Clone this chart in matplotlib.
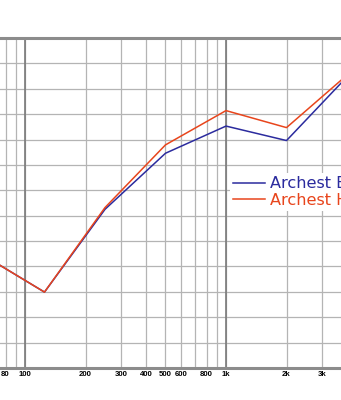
import matplotlib.pyplot as plt
from matplotlib.ticker import FixedLocator, NullFormatter

# octave band data (arbitrary units, 1 unit = 1 grid step)
freqs = [63, 125, 250, 500, 1000, 2000, 4000]
elite = [4.41, 2.99, 6.25, 8.46, 9.53, 8.96, 11.47]
hall = [4.41, 2.99, 6.32, 8.79, 10.14, 9.47, 11.54]
names = ["Archest Elite", "Archest Hall"]

tick_vals = [80, 100, 200, 300, 400, 500, 600, 800, 1000, 2000, 3000]
tick_text = ["80", "100", "200", "300", "400", "500", "600", "800", "1k", "2k", "3k"]
grid_vals = [70, 80, 90, 100, 200, 300, 400, 500, 600, 700, 800, 900,
             1000, 2000, 3000, 4000]

fig = plt.figure(figsize=(3.41, 4.0), dpi=100)
ax = fig.add_axes([0, 32 / 400, 1, 330 / 400])

ax.plot(freqs, elite, color="#2b2b9e", lw=1.1, label=names[0], zorder=3)
ax.plot(freqs, hall, color="#e8451c", lw=1.1, label=names[1], zorder=4)

ax.set_xscale("log")
ax.set_xlim(100 * 10 ** (-25 / 201), 1000 * 10 ** (115 / 201))
ax.set_ylim(0, 13)

ax.xaxis.set_major_locator(FixedLocator(tick_vals))
ax.xaxis.set_major_formatter(plt.FixedFormatter(tick_text))
ax.xaxis.set_minor_locator(FixedLocator(grid_vals))
ax.xaxis.set_minor_formatter(NullFormatter())
ax.set_yticks(range(0, 14))
ax.set_yticklabels([])

ax.grid(True, which="both", axis="x", color="#b4b4b4", lw=0.9)
ax.grid(True, which="major", axis="y", color="#b4b4b4", lw=0.9)
for f in (100, 1000):
    ax.axvline(f, color="#7a7a7a", lw=1.2, zorder=2)

ax.tick_params(axis="both", which="both", length=0)
ax.tick_params(axis="x", pad=1.8)
for lab in ax.get_xticklabels():
    lab.set_fontfamily("Liberation Sans")
    lab.set_fontweight("bold")
    lab.set_fontsize(5.6)

for s in ("left", "right"):
    ax.spines[s].set_visible(False)
for s in ("top", "bottom"):
    ax.spines[s].set_color("#8c8c8c")
    ax.spines[s].set_linewidth(2.2)

leg = ax.legend(loc="upper left", bbox_to_anchor=(222 / 341, 1 - 127 / 330),
                frameon=True, fontsize=11.6, handlelength=1.95,
                handletextpad=0.3, labelspacing=0.1, borderpad=0.2)
leg.get_frame().set_edgecolor("none")
leg.get_frame().set_facecolor("white")
leg.get_frame().set_alpha(1)
for txt, line in zip(leg.get_texts(), leg.get_lines()):
    txt.set_color(line.get_color())

fig.savefig("out.png", dpi=100)
